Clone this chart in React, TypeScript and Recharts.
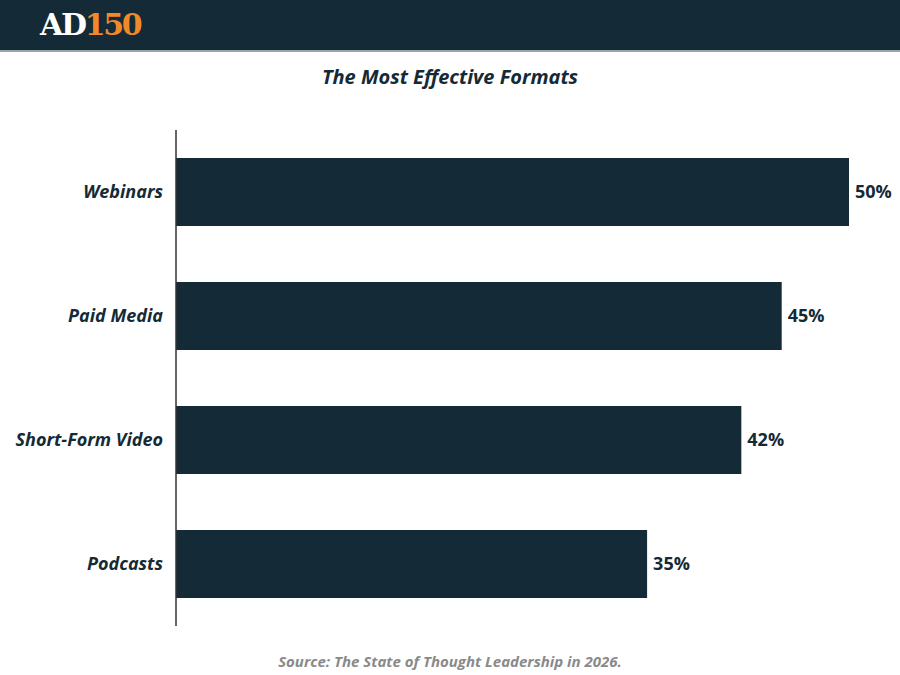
import { BarChart, Bar, XAxis, YAxis, LabelList } from 'recharts';

const formats = ['Webinars', 'Paid Media', 'Short-Form Video', 'Podcasts'];
const shares = [50, 45, 42, 35];

const data = formats.map((name, i) => ({ name, value: shares[i] }));

const NAVY = '#142a36';
const FONT = '"Open Sans", sans-serif';

export default function App() {
  return (
    <div style={{ position: 'fixed', left: 0, top: 0, width: 900, height: 675, background: '#fff', fontFamily: FONT, overflow: 'hidden' }}>
      <div style={{ position: 'absolute', left: 0, top: 0, width: 900, height: 50, background: NAVY, borderBottom: '2px solid #9aa5ab' }}>
        <div style={{ position: 'absolute', left: 40, top: 7, fontFamily: '"DejaVu Serif", serif', fontWeight: 700, fontSize: 30, letterSpacing: -2.3, lineHeight: '36px' }}>
          <span style={{ color: '#fff' }}>AD</span>
          <span style={{ color: '#f0892a' }}>150</span>
        </div>
      </div>
      <div style={{ position: 'absolute', left: 0, top: 63, width: 900, textAlign: 'center', fontSize: 20, fontWeight: 700, fontStyle: 'italic', color: NAVY, lineHeight: '28px' }}>
        The Most Effective Formats
      </div>
      <div style={{ position: 'absolute', left: 0, top: 0 }}>
        <BarChart
          width={900}
          height={675}
          data={data}
          layout="vertical"
          margin={{ top: 130, right: 51, bottom: 49, left: 0 }}
          barSize={68}
        >
          <XAxis type="number" domain={[0, 50]} hide />
          <YAxis
            type="category"
            dataKey="name"
            width={176}
            axisLine={{ stroke: '#333', strokeWidth: 1.5 }}
            tickLine={false}
            tickMargin={7}
            tick={{ fill: NAVY, fontSize: 18, fontWeight: 700, fontStyle: 'italic', fontFamily: FONT }}
          />
          <Bar dataKey="value" fill={NAVY} isAnimationActive={false}>
            <LabelList
              dataKey="value"
              position="right"
              offset={6}
              formatter={(v: any) => `${v}%`}
              style={{ fill: NAVY, fontSize: 18, fontWeight: 700, fontFamily: FONT }}
            />
          </Bar>
        </BarChart>
      </div>
      <div style={{ position: 'absolute', left: 0, top: 650, width: 900, textAlign: 'center', fontSize: 15, fontWeight: 700, fontStyle: 'italic', color: '#8a8a8a', lineHeight: '22px' }}>
        Source: The State of Thought Leadership in 2026.
      </div>
    </div>
  );
}
